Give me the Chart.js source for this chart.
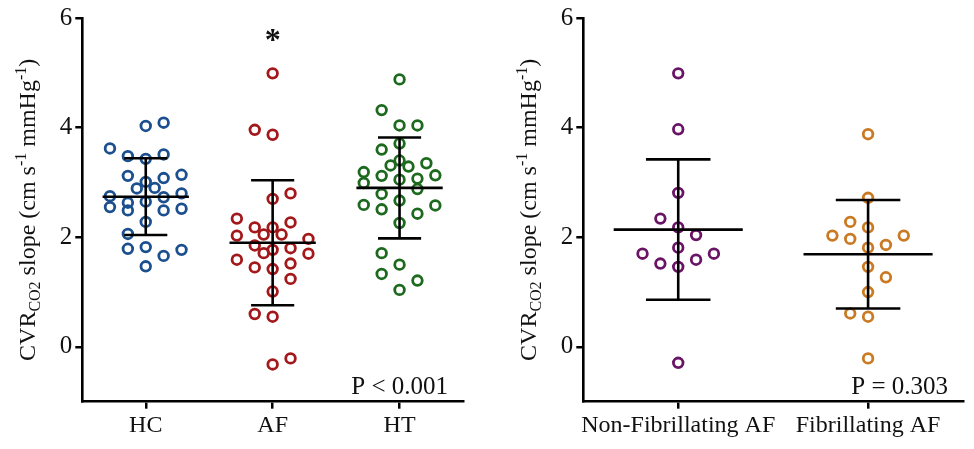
<!DOCTYPE html>
<html>
<head>
<meta charset="utf-8">
<script src="https://cdn.jsdelivr.net/npm/chart.js@4.4.1/dist/chart.umd.min.js"></script>
<style>
html, body { margin: 0; padding: 0; background: #fff; }
#wrap { position: relative; width: 974px; height: 449px; }
#wrap canvas { position: absolute; top: 0; }
</style>
</head>
<body>
<div id="wrap">
  <canvas id="leftChart" width="487" height="449" style="left:0"></canvas>
  <canvas id="rightChart" width="487" height="449" style="left:487px"></canvas>
</div>
<script>
// left panel: groups
var leftGroups = ['HC', 'AF', 'HT'];

var hcValues = [4.03, 4.09, 3.62, 3.48, 3.43, 3.51, 3.12, 3.08, 3.14, 3.01, 2.89, 2.90, 2.75, 2.73,
                2.80, 2.55, 2.63, 2.49, 2.65, 2.49, 2.52, 2.28, 2.06, 1.79, 1.82, 1.66, 1.77, 1.47];
var hcSlots  = [0, 1, -2, -1, 0, 1, -1, 1, 2, 0, -0.5, 0.5, -2, 1,
                2, -2, -1, -1, 0, 1, 2, 0, -1, -1, 0, 1, 2, 0];

var afValues = [4.99, 3.96, 3.87, 2.80, 2.70, 2.34, 2.27, 2.18, 2.18, 2.03, 2.05, 2.05, 1.97, 1.85,
                1.77, 1.80, 1.71, 1.70, 1.59, 1.45, 1.42, 1.52, 1.24, 1.01, 0.60, 0.55, -0.32, -0.21];
var afSlots  = [0, -1, 0, 1, 0, -2, 1, -1, 0, -2, -0.5, 0.5, 2, -1,
                0, 1, -0.5, 2, -2, -1, 0, 1, 1, 0, -1, 0, 0, 1];

var htValues = [4.88, 4.32, 4.04, 4.04, 3.60, 3.71, 3.31, 3.40, 3.29, 3.35, 3.19, 3.12, 3.05, 3.07, 3.13,
                2.99, 2.88, 2.79, 2.67, 2.59, 2.51, 2.58, 2.43, 2.26, 1.71, 1.50, 1.33, 1.21, 1.04];
var htSlots  = [0, -1, 0, 1, -1, 0, -0.5, 0, 0.5, 1.5, -2, -1, 0, 1, 2,
                -2, 1, -1, 0, -2, -1, 2, 1, 0, -1, 0, -1, 1, 0];

var leftMeans = [2.74, 1.90, 2.90];
var leftSDs   = [0.70, 1.14, 0.92];

// right panel: groups
var rightGroups = ['Non-Fibrillating AF', 'Fibrillating AF'];

var nonFibValues = [4.99, 3.97, 2.81, 2.34, 2.18, 2.04, 1.81, 1.70, 1.70, 1.52, 1.59, 1.46, -0.29];
var nonFibSlots  = [0, 0, 0, -1, 0, 1, 0, -2, 2, -1, 1, 0, 0];

var fibValues = [3.88, 2.72, 2.28, 2.18, 2.03, 1.97, 2.03, 1.81, 1.86, 1.46, 1.27, 1.00, 0.61, 0.55, -0.21];
var fibSlots  = [0, 0, -1, 0, -2, -1, 2, 0, 1, 0, 1, 0, -1, 0, 0];

var rightMeans = [2.14, 1.69];
var rightSDs   = [1.28, 0.99];

var yTickValues = [0, 2, 4, 6];
var leftPText = 'P < 0.001';
var rightPText = 'P = 0.303';

var serif = '"Liberation Serif", "Times New Roman", serif';

function swarm(cat, values, slots, slotW) {
  return values.map(function(v, i) { return { x: cat + slots[i] * slotW, y: v }; });
}

function summary(cat, mean, sd) {
  return [
    { x: cat - 0.34, y: mean }, { x: cat + 0.34, y: mean }, { x: cat, y: null },
    { x: cat, y: mean - sd }, { x: cat, y: mean + sd }, { x: cat, y: null },
    { x: cat - 0.17, y: mean + sd }, { x: cat + 0.17, y: mean + sd }, { x: cat, y: null },
    { x: cat - 0.17, y: mean - sd }, { x: cat + 0.17, y: mean - sd }
  ];
}

function pointSet(data, color) {
  return {
    data: data, order: 2, showLine: false,
    pointStyle: 'circle', pointRadius: 4.8, pointBorderWidth: 2.8,
    pointBorderColor: color, pointBackgroundColor: 'rgba(0,0,0,0)'
  };
}

function lineSet(data) {
  return {
    data: data, order: 0, showLine: true, spanGaps: false,
    borderColor: '#000', borderWidth: 2.6, borderCapStyle: 'butt',
    pointRadius: 0
  };
}

// y title with subscript / superscripts, plus P text and star
var panelText = {
  id: 'panelText',
  afterDraw: function(chart, args, opts) {
    var ctx = chart.ctx, area = chart.chartArea;
    var parts = [['CVR', 'n'], ['CO2', 'sub'], [' slope (cm s', 'n'], ['-1', 'sup'],
                 [' mmHg', 'n'], ['-1', 'sup'], [')', 'n']];
    var fontFor = function(k) { return (k === 'n' ? '24px ' : '16px ') + serif; };
    ctx.save();
    ctx.fillStyle = '#111';
    var total = 0;
    parts.forEach(function(p) { ctx.font = fontFor(p[1]); total += ctx.measureText(p[0]).width; });
    ctx.translate(area.left - 55.5, (area.top + area.bottom) / 2);
    ctx.rotate(-Math.PI / 2);
    ctx.textBaseline = 'alphabetic';
    ctx.textAlign = 'left';
    var pos = -total / 2;
    parts.forEach(function(p) {
      ctx.font = fontFor(p[1]);
      var dy = p[1] === 'sub' ? 13 : (p[1] === 'sup' ? -1 : 8);
      ctx.fillText(p[0], pos, dy);
      pos += ctx.measureText(p[0]).width;
    });
    ctx.restore();

    ctx.save();
    ctx.fillStyle = '#111';
    ctx.font = '25px ' + serif;
    ctx.textAlign = 'right';
    ctx.textBaseline = 'alphabetic';
    ctx.fillText(opts.pText, area.right - 15, area.bottom - 8);
    if (opts.star) {
      ctx.font = 'bold 32px ' + serif;
      ctx.textAlign = 'center';
      ctx.fillText('*', chart.scales.x.getPixelForValue(opts.star.x), chart.scales.y.getPixelForValue(opts.star.y));
    }
    ctx.restore();
  }
};

function makeOptions(groups, yWidth, padRight, textOpts) {
  return {
    responsive: false,
    animation: false,
    events: [],
    layout: { padding: { left: 0, top: 17, right: padRight, bottom: 0 } },
    plugins: { legend: { display: false }, tooltip: { enabled: false }, panelText: textOpts },
    scales: {
      x: {
        type: 'linear', min: -0.5, max: groups.length - 0.5,
        afterBuildTicks: function(s) { s.ticks = groups.map(function(g, i) { return { value: i }; }); },
        afterFit: function(s) { s.height = 47.3; },
        grid: { drawOnChartArea: false, drawTicks: true, tickLength: 7, color: '#000', lineWidth: 2.5 },
        border: { display: true, color: '#000', width: 2.6 },
        ticks: {
          color: '#111', font: { family: serif, size: 24 }, padding: 3, maxRotation: 0, autoSkip: false,
          callback: function(v) { return groups[v]; }
        }
      },
      y: {
        type: 'linear', min: -1, max: 6,
        afterBuildTicks: function(s) { s.ticks = yTickValues.map(function(v) { return { value: v }; }); },
        afterFit: function(s) { s.width = yWidth; },
        grid: { drawOnChartArea: false, drawTicks: true, tickLength: 7, color: '#000', lineWidth: 2.5 },
        border: { display: true, color: '#000', width: 2.6 },
        ticks: { color: '#111', font: { family: serif, size: 25 }, padding: 3 }
      }
    }
  };
}

var leftSlotW = 0.141;
new Chart(document.getElementById('leftChart'), {
  type: 'scatter',
  data: {
    datasets: [
      lineSet(summary(0, leftMeans[0], leftSDs[0])),
      lineSet(summary(1, leftMeans[1], leftSDs[1])),
      lineSet(summary(2, leftMeans[2], leftSDs[2])),
      pointSet(swarm(0, hcValues, hcSlots, leftSlotW), '#1b4f8e'),
      pointSet(swarm(1, afValues, afSlots, leftSlotW), '#a3181b'),
      pointSet(swarm(2, htValues, htSlots, leftSlotW), '#1d6a1f')
    ]
  },
  options: makeOptions(leftGroups, 82.3, 24, { pText: leftPText, star: { x: 1, y: 5.42 } }),
  plugins: [panelText]
});

var rightSlotW = 0.094;
new Chart(document.getElementById('rightChart'), {
  type: 'scatter',
  data: {
    datasets: [
      lineSet(summary(0, rightMeans[0], rightSDs[0])),
      lineSet(summary(1, rightMeans[1], rightSDs[1])),
      pointSet(swarm(0, nonFibValues, nonFibSlots, rightSlotW), '#6a1466'),
      pointSet(swarm(1, fibValues, fibSlots, rightSlotW), '#c97a22')
    ]
  },
  options: makeOptions(rightGroups, 96.3, 11, { pText: rightPText, star: null }),
  plugins: [panelText]
});
</script>
</body>
</html>
